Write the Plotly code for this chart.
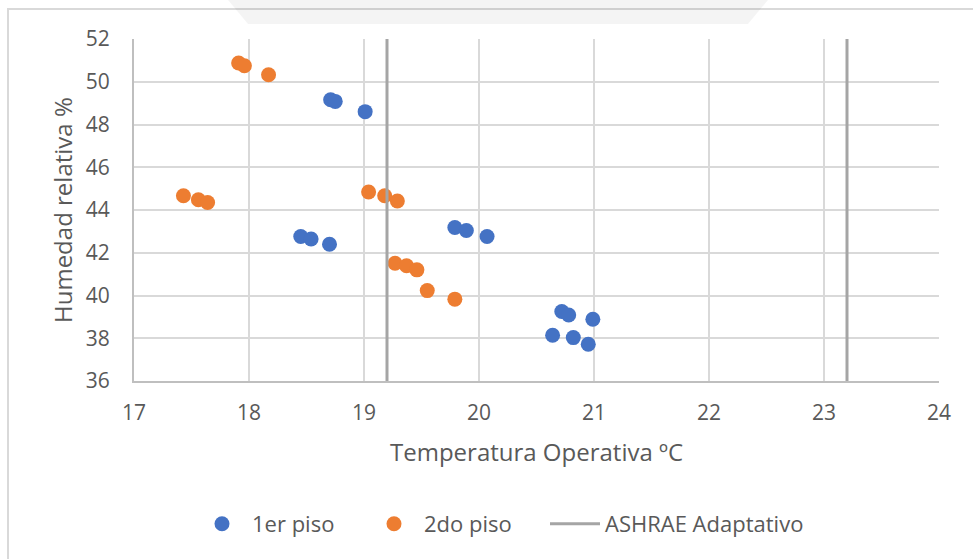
import plotly.graph_objects as go

# Operative temperature (°C) and relative humidity (%) per floor
piso1_temp = [18.71, 18.75, 19.01, 18.45, 18.54, 18.70, 19.79, 19.89, 20.07,
              20.72, 20.78, 20.99, 20.64, 20.82, 20.95]
piso1_hr = [49.16, 49.08, 48.60, 42.76, 42.64, 42.40, 43.18, 43.04, 42.76,
            39.25, 39.09, 38.89, 38.14, 38.03, 37.72]

piso2_temp = [17.91, 17.96, 18.17, 17.43, 17.56, 17.64, 19.04, 19.18, 19.29,
              19.27, 19.37, 19.46, 19.55, 19.79]
piso2_hr = [50.88, 50.75, 50.33, 44.67, 44.48, 44.35, 44.84, 44.67, 44.42,
            41.51, 41.39, 41.20, 40.23, 39.83]

# ASHRAE adaptive comfort limits (vertical lines)
ashrae_limits = [19.2, 23.2]

x_range = [17, 24]
y_range = [36, 52]
x_ticks = [17, 18, 19, 20, 21, 22, 23, 24]
y_ticks = [36, 38, 40, 42, 44, 46, 48, 50, 52]

FONT = "Open Sans, Liberation Sans, sans-serif"
TXT = "#595959"
GRID = "#d9d9d9"

# plot area in pixels
L, R, T, B = 134, 939, 39, 381
PW, PH = R - L, B - T


def px_x(p):
    return (p - L) / PW


def px_y(p):
    return (B - p) / PH


def path_px(points):
    return "M " + " L ".join(f"{px_x(x):.5f},{px_y(y):.5f}" for x, y in points) + " Z"


ash_x, ash_y = [], []
for lim in ashrae_limits:
    ash_x += [lim, lim, None]
    ash_y += [y_range[0], y_range[1], None]

fig = go.Figure()
fig.add_trace(go.Scatter(
    x=piso1_temp, y=piso1_hr, mode="markers", name="1er piso",
    marker=dict(color="#4472C4", size=15, line=dict(width=0)),
    legend="legend",
))
fig.add_trace(go.Scatter(
    x=piso2_temp, y=piso2_hr, mode="markers", name="2do piso",
    marker=dict(color="#ED7D31", size=15, line=dict(width=0)),
    legend="legend2",
))
fig.add_trace(go.Scatter(
    x=ash_x, y=ash_y, mode="lines", name="ASHRAE Adaptativo",
    line=dict(color="#a5a5a5", width=3),
    legend="legend3",
))

leg_common = dict(
    orientation="h", xanchor="left", y=px_y(524), yanchor="middle",
    font=dict(family=FONT, size=22, color=TXT), itemwidth=50,
    bgcolor="rgba(0,0,0,0)", borderwidth=0,
)

fig.update_layout(
    width=973, height=559,
    margin=dict(l=L, r=973 - R, t=T, b=559 - B),
    paper_bgcolor="white", plot_bgcolor="white",
    font=dict(family=FONT, color=TXT, size=17),
    showlegend=True,
    legend=dict(x=px_x(192), **leg_common),
    legend2=dict(x=px_x(364), **leg_common),
    legend3=dict(x=px_x(545), **leg_common),
    shapes=[
        # outer chart border
        dict(type="rect", xref="paper", yref="paper",
             x0=px_x(8), x1=1.2, y0=-1.0, y1=px_y(9),
             line=dict(color="#d9d9d9", width=2), fillcolor="rgba(0,0,0,0)",
             layer="below"),
        # faint background mark along the top edge
        dict(type="path", xref="paper", yref="paper",
             path=path_px([(228, 0), (768, 0), (748, 24), (248, 24)]),
             fillcolor="rgba(0,0,0,0.045)", line=dict(width=0), layer="below"),
    ],
    annotations=[
        dict(text="Temperatura Operativa ºC", xref="paper", yref="paper",
             x=0.5, y=px_y(452), xanchor="center", yanchor="middle",
             showarrow=False, font=dict(family=FONT, size=24, color=TXT)),
        dict(text="Humedad relativa %", xref="paper", yref="paper",
             x=px_x(62), y=px_y(210), textangle=-90,
             xanchor="center", yanchor="middle",
             showarrow=False, font=dict(family=FONT, size=24, color=TXT)),
    ],
)

fig.update_xaxes(
    range=x_range, tickvals=x_ticks, showgrid=True, gridcolor=GRID, gridwidth=2,
    zeroline=False, showline=True, linecolor="#bfbfbf", linewidth=2,
    ticks="", ticklabelstandoff=12, tickfont=dict(size=21, color=TXT),
)
fig.update_yaxes(
    range=y_range, tickvals=y_ticks, showgrid=True, gridcolor=GRID, gridwidth=2,
    zeroline=False, showline=True, linecolor="#bfbfbf", linewidth=2,
    ticks="", ticklabelstandoff=18, tickfont=dict(size=21, color=TXT),
)

fig.write_html("out.html")
